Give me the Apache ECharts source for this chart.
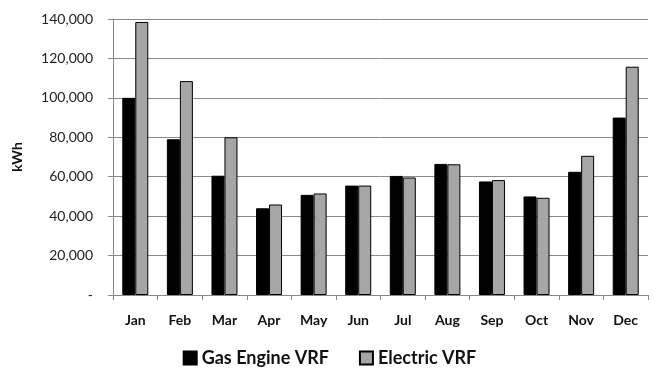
<!DOCTYPE html>
<html lang="en">
<head>
	<meta charset="UTF-8">
	<title>Gas Engine VRF vs Electric VRF</title>
	<script type="text/javascript" src="https://cdn.jsdelivr.net/npm/echarts@6/dist/echarts.min.js"></script>
	<style>
		html, body, #content {
			width: 100%;
			height: 100%;
			margin: 0;
			background: #fff;
		}
	</style>
</head>
<body>
	<div id="content"></div>
	<script>
		// monthly energy use, kWh
		var months = ['Jan', 'Feb', 'Mar', 'Apr', 'May', 'Jun', 'Jul', 'Aug', 'Sep', 'Oct', 'Nov', 'Dec'];
		var gasEngine = [100000, 79000, 60500, 44000, 50800, 55500, 60400, 66500, 57600, 50000, 62500, 90000];
		var electric = [138500, 108500, 80000, 45900, 51500, 55500, 59600, 66300, 58300, 49300, 70600, 115800];
		var seriesNames = ['Gas Engine VRF', 'Electric VRF'];

		var font = 'Lato, "Open Sans", sans-serif';
		var chart = echarts.init(document.getElementById('content'));

		chart.setOption({
			animation: false,
			grid: { left: 113, right: 11, top: 19, bottom: 80, outerBoundsMode: 'none' },
			legend: {
				bottom: 3,
				left: 'center',
				itemWidth: 13,
				itemHeight: 13,
				itemGap: 30,
				icon: 'rect',
				textStyle: { fontFamily: font, fontSize: 18, fontWeight: 'bold', color: '#111' },
				data: seriesNames
			},
			xAxis: {
				type: 'category',
				data: months,
				axisLine: { lineStyle: { color: '#888' } },
				axisTick: { show: true, length: 5, lineStyle: { color: '#888' } },
				axisLabel: { fontFamily: font, fontSize: 14, fontWeight: 'bold', color: '#111', margin: 18 }
			},
			yAxis: {
				type: 'value',
				min: 0,
				max: 140000,
				interval: 20000,
				name: 'kWh',
				nameLocation: 'middle',
				nameGap: 89,
				nameTextStyle: { fontFamily: font, fontSize: 14, fontWeight: 'bold', color: '#111' },
				axisLine: { show: true, lineStyle: { color: '#888' } },
				axisTick: { show: true, length: 5, lineStyle: { color: '#888' } },
				splitLine: { lineStyle: { color: '#8a8a8a' } },
				axisLabel: {
					fontFamily: font, fontSize: 14, color: '#222', margin: 20,
					formatter: function (v) { return v === 0 ? '-' : v.toLocaleString('en-US'); }
				}
			},
			series: [{
				name: seriesNames[0],
				type: 'bar',
				data: gasEngine,
				barWidth: 13,
				barGap: '0%',
				itemStyle: { color: '#000', borderColor: '#000', borderWidth: 1 }
			}, {
				name: seriesNames[1],
				type: 'bar',
				data: electric,
				barWidth: 13,
				itemStyle: { color: '#a6a6a6', borderColor: '#000', borderWidth: 1 }
			}]
		});
		window.onresize = chart.resize;
	</script>
</body>
</html>
